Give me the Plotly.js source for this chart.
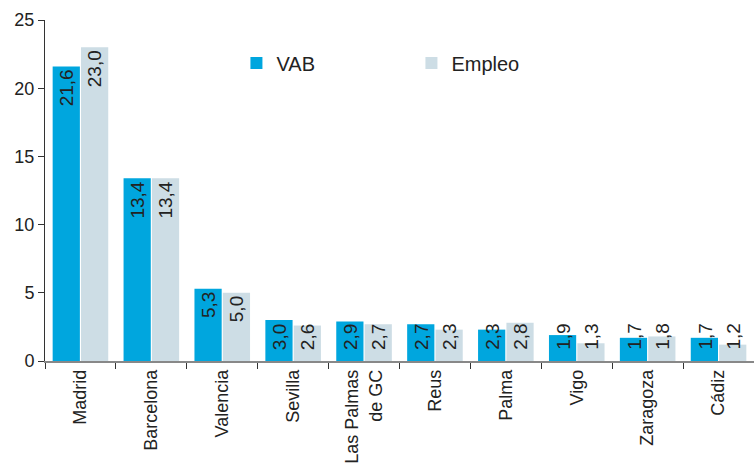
<!DOCTYPE html>
<html><head><meta charset="utf-8">
<script src="https://cdn.plot.ly/plotly-3.0.1.min.js"></script>
<style>html,body{margin:0;padding:0;background:#fff}#chart{width:754px;height:464px}</style>
</head><body><div id="chart"></div>
<script>
const categories = ["Madrid","Barcelona","Valencia","Sevilla","Las Palmas<br>de GC","Reus","Palma","Vigo","Zaragoza","Cádiz"];
const vab = [21.6,13.4,5.3,3.0,2.9,2.7,2.3,1.9,1.7,1.7];
const empleo = [23.0,13.4,5.0,2.6,2.7,2.3,2.8,1.3,1.8,1.2];
const yTicks = [0,5,10,15,20,25];

const FF = "Liberation Sans, Arial, sans-serif";
const textFont = {family:FF, size:19, color:"#222"};
const SMALL = 3.2;   // below this the label sits near the base, as in the source
function fmt(v){ return v.toFixed(1).replace(".", ","); }
function series(name, vals, color){
  return {type:"bar", name:name, x:categories, y:vals, marker:{color:color, line:{width:0}},
    texttemplate:"%{y:.1f}", textposition:vals.map(v => v < SMALL ? "none" : "inside"),
    insidetextanchor:"end", textangle:-90, constraintext:"none",
    insidetextfont:textFont, hoverinfo:"skip"};
}
const data = [series("VAB", vab, "#00a6de"), series("Empleo", empleo, "#cddde5")];
const annotations = [];
[[vab, -14], [empleo, 14]].forEach(([vals, shift]) => {
  vals.forEach((v, i) => {
    if (v < SMALL) annotations.push({x:categories[i], y:0, xref:"x", yref:"y", text:fmt(v),
      showarrow:false, textangle:-90, xshift:shift, yshift:9, yanchor:"bottom", xanchor:"center",
      font:textFont});
  });
});
const layout = {
  width:754, height:464, margin:{l:45, r:0, t:20, b:103},
  paper_bgcolor:"#fff", plot_bgcolor:"#fff",
  separators:",.",
  barmode:"group", bargap:0.2, bargroupgap:0.04,
  font:{family:FF, size:18, color:"#222"},
  showlegend:true, annotations:annotations,
  legend:{orientation:"h", x:0.27, y:0.874, xanchor:"left", yanchor:"middle",
    entrywidth:130, entrywidthmode:"pixels", font:{size:20, color:"#222"}, bgcolor:"rgba(0,0,0,0)"},
  xaxis:{type:"category", tickangle:-90, tickson:"boundaries", ticks:"outside", ticklen:6,
    tickcolor:"#333", showline:true, linecolor:"#888", linewidth:1.5, showgrid:false,
    tickfont:{size:18, color:"#222"}, fixedrange:true},
  yaxis:{range:[0,25], tickvals:yTicks, ticks:"outside", ticklen:6, tickcolor:"#333",
    showline:true, linecolor:"#333", linewidth:1, showgrid:false, zeroline:false,
    tickfont:{size:18, color:"#222"}, fixedrange:true}
};
Plotly.newPlot("chart", data, layout, {displayModeBar:false, staticPlot:true});
</script></body></html>
